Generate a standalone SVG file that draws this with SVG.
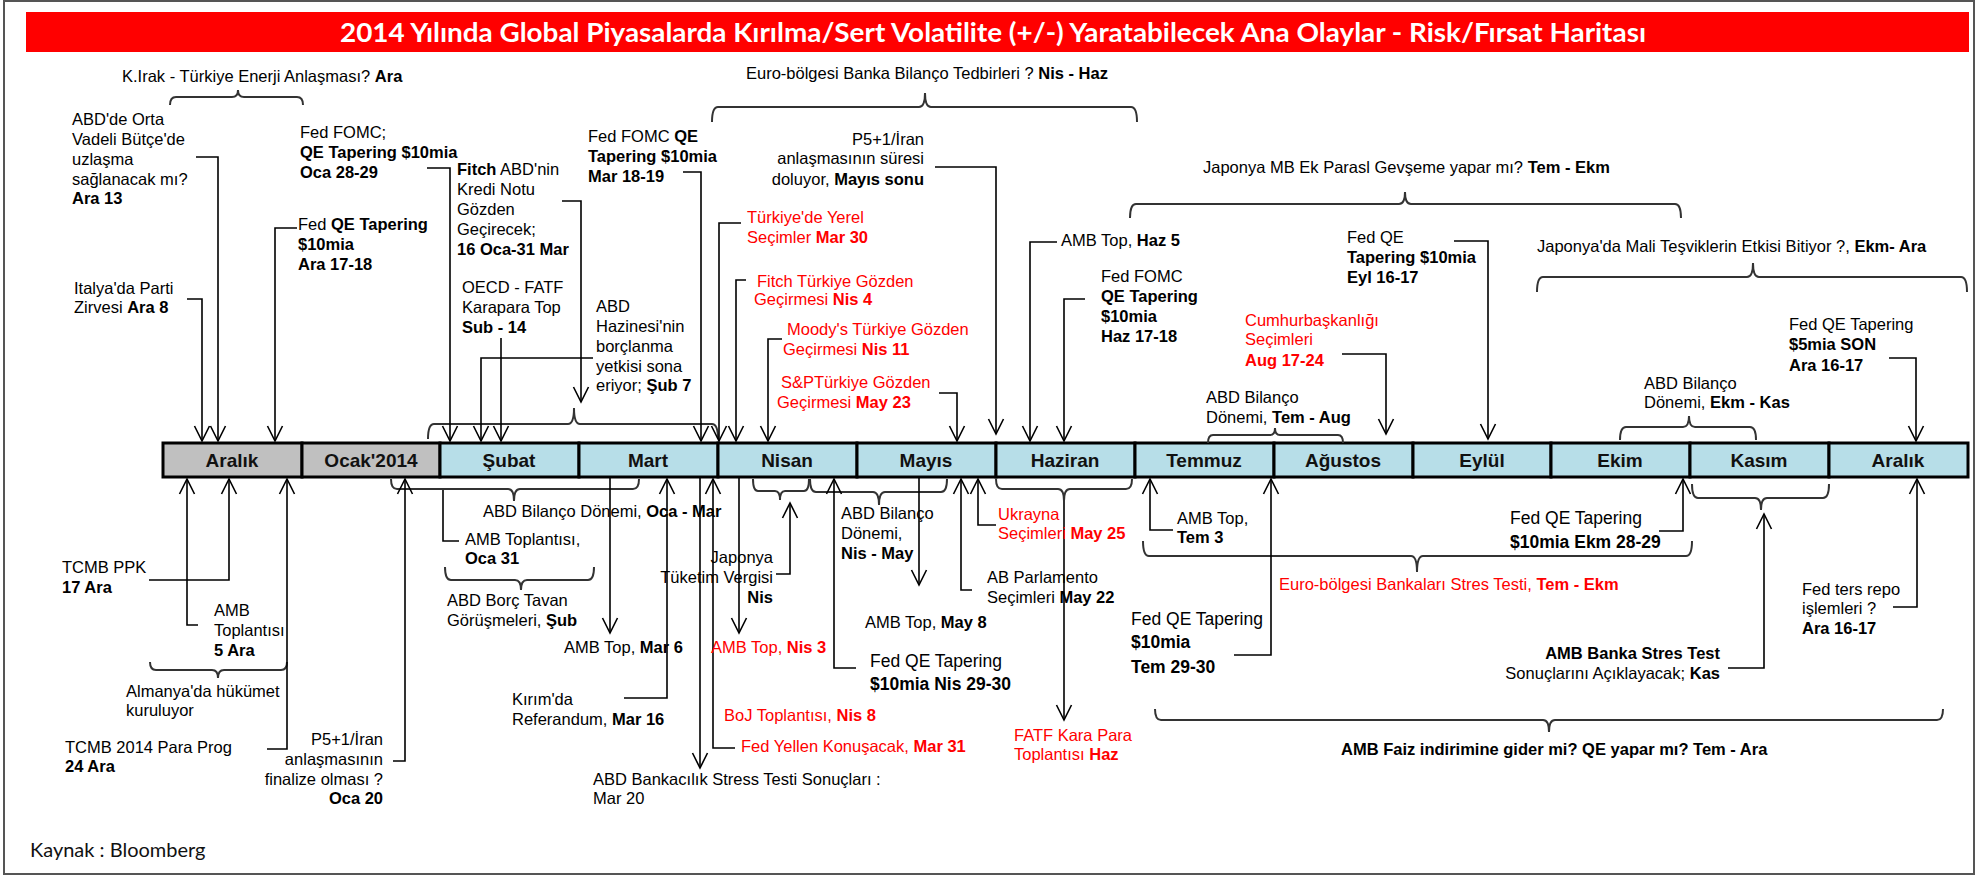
<svg xmlns="http://www.w3.org/2000/svg" width="1979" height="877" viewBox="0 0 1979 877">
<style>
.t{font-family:"Liberation Sans",Arial,sans-serif;font-size:16.5px;fill:#000}
.c{font-size:17.5px}
.b{font-weight:bold}
.r{fill:#f00}
.e{text-anchor:end}
.ln{fill:none;stroke:#000;stroke-width:1.6}
.br{fill:none;stroke:#333;stroke-width:2}
.mg{fill:#c0c0c0;stroke:#000;stroke-width:3}
.mb{fill:#b7dee8;stroke:#000;stroke-width:3}
.ml{font-family:"Liberation Sans",Arial,sans-serif;font-size:19px;font-weight:bold;fill:#111;text-anchor:middle}
</style>
<defs>
<marker id="ar" viewBox="-16 -9 18 18" refX="0" refY="0" markerWidth="18" markerHeight="18" markerUnits="userSpaceOnUse" orient="auto" overflow="visible">
<path d="M-15,-7.5 L0,0 L-15,7.5" fill="none" stroke="#000" stroke-width="1.6"/>
</marker>
</defs>
<rect x="0" y="0" width="1979" height="877" fill="#fff"/>
<rect x="4" y="1" width="1970" height="873" fill="#fff" stroke="#555" stroke-width="2"/>
<g id="title">
<rect x="26" y="12" width="1943" height="40" fill="#f00"/>
<text x="993" y="42" text-anchor="middle" textLength="1306" lengthAdjust="spacingAndGlyphs" style="font-family:Lato,'Liberation Sans',sans-serif;font-size:27px;font-weight:bold;fill:#fff">2014 Yılında Global Piyasalarda Kırılma/Sert Volatilite (+/-) Yaratabilecek Ana Olaylar - Risk/Fırsat Haritası</text>
</g>
<g id="timeline">
<rect class="mg" x="163" y="443" width="139" height="34"/>
<rect class="mg" x="302" y="443" width="138" height="34"/>
<rect class="mb" x="440" y="443" width="139" height="34"/>
<rect class="mb" x="579" y="443" width="139" height="34"/>
<rect class="mb" x="718" y="443" width="139" height="34"/>
<rect class="mb" x="857" y="443" width="139" height="34"/>
<rect class="mb" x="996" y="443" width="139" height="34"/>
<rect class="mb" x="1135" y="443" width="139" height="34"/>
<rect class="mb" x="1274" y="443" width="139" height="34"/>
<rect class="mb" x="1413" y="443" width="138" height="34"/>
<rect class="mb" x="1551" y="443" width="139" height="34"/>
<rect class="mb" x="1690" y="443" width="139" height="34"/>
<rect class="mb" x="1829" y="443" width="139" height="34"/>
<text class="ml" x="232" y="467">Aralık</text>
<text class="ml" x="371" y="467">Ocak'2014</text>
<text class="ml" x="509" y="467">Şubat</text>
<text class="ml" x="648" y="467">Mart</text>
<text class="ml" x="787" y="467">Nisan</text>
<text class="ml" x="926" y="467">Mayıs</text>
<text class="ml" x="1065" y="467">Haziran</text>
<text class="ml" x="1204" y="467">Temmuz</text>
<text class="ml" x="1343" y="467">Ağustos</text>
<text class="ml" x="1482" y="467">Eylül</text>
<text class="ml" x="1620" y="467">Ekim</text>
<text class="ml" x="1759" y="467">Kasım</text>
<text class="ml" x="1898" y="467">Aralık</text>
</g>
<g id="connectors">
<path class="br" d="M170,105 Q170,97 176,97 H232 Q238,97 238,90 Q238,97 244,97 H297 Q303,97 303,105"/>
<path class="br" d="M712,122 Q712,107 718,107 H919 Q925,107 925,93 Q925,107 931,107 H1131 Q1137,107 1137,122"/>
<path class="br" d="M1130,218 Q1130,204 1136,204 H1399 Q1405,204 1405,192 Q1405,204 1411,204 H1675 Q1681,204 1681,218"/>
<path class="br" d="M1537,292 Q1537,277 1543,277 H1747 Q1753,277 1753,263 Q1753,277 1759,277 H1961 Q1967,277 1967,292"/>
<path class="br" d="M428,439 Q428,424 434,424 H568 Q574,424 574,408 Q574,424 580,424 H712 Q718,424 718,439"/>
<path class="br" d="M1208,443 Q1208,435 1213,435 H1270 Q1275,435 1275,428 Q1275,435 1280,435 H1338 Q1343,435 1343,443"/>
<path class="br" d="M1620,440 Q1620,427 1626,427 H1683 Q1689,427 1689,416 Q1689,427 1695,427 H1750 Q1756,427 1756,440"/>
<path class="br" d="M150,662 Q150,670 156,670 H212 Q218,670 218,678 Q218,670 224,670 H281 Q287,670 287,662"/>
<path class="br" d="M391,479 Q391,489 397,489 H508 Q514,489 514,501 Q514,489 520,489 H633 Q639,489 639,479"/>
<path class="br" d="M445,567 Q445,580 451,580 H515 Q521,580 521,590 Q521,580 527,580 H588 Q594,580 594,567"/>
<path class="br" d="M753,479 Q753,491 758,491 H775 Q780,491 780,500 Q780,491 785,491 H804 Q809,491 809,479"/>
<path class="br" d="M810,479 Q810,492 816,492 H873 Q879,492 879,505 Q879,492 885,492 H941 Q947,492 947,479"/>
<path class="br" d="M996,479 Q996,489 1002,489 H1058 Q1064,489 1064,501 Q1064,489 1070,489 H1126 Q1132,489 1132,479"/>
<path class="br" d="M1143,541 Q1143,556 1149,556 H1411 Q1417,556 1417,572 Q1417,556 1423,556 H1686 Q1692,556 1692,541"/>
<path class="br" d="M1692,484 Q1692,498 1698,498 H1755 Q1761,498 1761,510 Q1761,498 1767,498 H1823 Q1829,498 1829,484"/>
<path class="br" d="M1155,709 Q1155,720 1161,720 H1543 Q1549,720 1549,732 Q1549,720 1555,720 H1937 Q1943,720 1943,709"/>
<path class="ln" marker-end="url(#ar)" d="M196,157 H218 V441"/>
<path class="ln" marker-end="url(#ar)" d="M187,299 H202 V441"/>
<path class="ln" marker-end="url(#ar)" d="M427,168 H450 V441"/>
<path class="ln" marker-end="url(#ar)" d="M297,228 H275 V441"/>
<path class="ln" marker-end="url(#ar)" d="M562,201 H581 V402"/>
<path class="ln" marker-end="url(#ar)" d="M501,338 V441"/>
<path class="ln" marker-end="url(#ar)" d="M593,358 H481 V441"/>
<path class="ln" marker-end="url(#ar)" d="M683,172 H701 V441"/>
<path class="ln" marker-end="url(#ar)" d="M935,167 H996 V434"/>
<path class="ln" marker-end="url(#ar)" d="M741,223 H719 V441"/>
<path class="ln" marker-end="url(#ar)" d="M746,280 H736 V441"/>
<path class="ln" marker-end="url(#ar)" d="M782,339 H768 V441"/>
<path class="ln" marker-end="url(#ar)" d="M939,393 H957 V441"/>
<path class="ln" marker-end="url(#ar)" d="M1057,242 H1030 V441"/>
<path class="ln" marker-end="url(#ar)" d="M1085,299 H1064 V441"/>
<path class="ln" marker-end="url(#ar)" d="M1342,354 H1386 V434"/>
<path class="ln" marker-end="url(#ar)" d="M1454,241 H1488 V439"/>
<path class="ln" marker-end="url(#ar)" d="M1889,358 H1916 V441"/>
<path class="ln" marker-end="url(#ar)" d="M149,580 H229 V479"/>
<path class="ln" marker-end="url(#ar)" d="M198,625 H187 V479"/>
<path class="ln" marker-end="url(#ar)" d="M267,749 H287 V479"/>
<path class="ln" marker-end="url(#ar)" d="M393,761 H405 V479"/>
<path class="ln" d="M459,541 H443 V490"/>
<path class="ln" marker-end="url(#ar)" d="M610,477 V633"/>
<path class="ln" marker-end="url(#ar)" d="M624,698 H667 V479"/>
<path class="ln" marker-end="url(#ar)" d="M700,477 V768"/>
<path class="ln" marker-end="url(#ar)" d="M735,748 H713 V479"/>
<path class="ln" marker-end="url(#ar)" d="M739,477 V633"/>
<path class="ln" marker-end="url(#ar)" d="M776,574 H790 V503"/>
<path class="ln" marker-end="url(#ar)" d="M856,668 H834 V479"/>
<path class="ln" marker-end="url(#ar)" d="M919,477 V585"/>
<path class="ln" marker-end="url(#ar)" d="M972,590 H961 V479"/>
<path class="ln" marker-end="url(#ar)" d="M996,525 H978 V479"/>
<path class="ln" marker-end="url(#ar)" d="M1064,501 V720"/>
<path class="ln" marker-end="url(#ar)" d="M1173,530 H1150 V479"/>
<path class="ln" marker-end="url(#ar)" d="M1234,655 H1271 V479"/>
<path class="ln" marker-end="url(#ar)" d="M1659,531 H1683 V479"/>
<path class="ln" marker-end="url(#ar)" d="M1728,668 H1764 V514"/>
<path class="ln" marker-end="url(#ar)" d="M1893,607 H1917 V479"/>
</g>
<g id="n-kirak"><text class="t" x="122" y="82">K.Irak - Türkiye Enerji  Anlaşması? <tspan class="b">Ara</tspan></text></g>
<g id="n-abd-orta"><text class="t" x="72" y="125">ABD'de Orta<tspan x="72" y="145">Vadeli Bütçe'de</tspan><tspan x="72" y="165">uzlaşma</tspan><tspan x="72" y="185">sağlanacak mı?</tspan><tspan x="72" y="204" class="b">Ara 13</tspan></text></g>
<g id="n-italya"><text class="t" x="74" y="294">Italya'da Parti<tspan x="74" y="313">Zirvesi </tspan><tspan class="b">Ara 8</tspan></text></g>
<g id="n-fomc-oca"><text class="t" x="300" y="138">Fed FOMC;<tspan x="300" y="158" class="b">QE Tapering $10mia</tspan><tspan x="300" y="178" class="b">Oca 28-29</tspan></text></g>
<g id="n-fed-ara"><text class="t" x="298" y="230">Fed <tspan class="b">QE  Tapering</tspan><tspan x="298" y="250" class="b">$10mia</tspan><tspan x="298" y="270" class="b">Ara 17-18</tspan></text></g>
<g id="n-fitch-abd"><text class="t" x="457" y="175"><tspan class="b">Fitch</tspan> ABD'nin<tspan x="457" y="195">Kredi Notu</tspan><tspan x="457" y="215">Gözden</tspan><tspan x="457" y="235">Geçirecek;</tspan><tspan x="457" y="255" class="b">16 Oca-31 Mar</tspan></text></g>
<g id="n-oecd"><text class="t" x="462" y="293">OECD  - FATF<tspan x="462" y="313">Karapara Top</tspan><tspan x="462" y="333" class="b">Sub - 14</tspan></text></g>
<g id="n-hazine"><text class="t" x="596" y="312">ABD<tspan x="596" y="332">Hazinesi'nin</tspan><tspan x="596" y="352">borçlanma</tspan><tspan x="596" y="372">yetkisi sona</tspan><tspan x="596" y="391">eriyor; </tspan><tspan class="b">Şub 7</tspan></text></g>
<g id="n-fomc-mar"><text class="t" x="588" y="142">Fed FOMC  <tspan class="b">QE</tspan><tspan x="588" y="162" class="b">Tapering $10mia</tspan><tspan x="588" y="182" class="b">Mar 18-19</tspan></text></g>
<g id="n-euro-bilanco"><text class="t" x="746" y="79">Euro-bölgesi Banka Bilanço Tedbirleri ? <tspan class="b">Nis - Haz</tspan></text></g>
<g id="n-p5-mayis"><text class="t e" x="924" y="145">P5+1/İran<tspan x="924" y="164">anlaşmasının  süresi</tspan><tspan x="924" y="185">doluyor, <tspan class="b">Mayıs sonu</tspan></tspan></text></g>
<g id="n-yerel"><text class="t r" x="747" y="223">Türkiye'de Yerel<tspan x="747" y="243">Seçimler  </tspan><tspan class="b">Mar 30</tspan></text></g>
<g id="n-fitch-tr"><text class="t r" x="757" y="287">Fitch Türkiye Gözden<tspan x="754" y="305">Geçirmesi  </tspan><tspan class="b">Nis 4</tspan></text></g>
<g id="n-moodys"><text class="t r" x="787" y="335">Moody's Türkiye Gözden<tspan x="783" y="355">Geçirmesi  </tspan><tspan class="b">Nis 11</tspan></text></g>
<g id="n-sp"><text class="t r" x="781" y="388">S&amp;PTürkiye  Gözden<tspan x="777" y="408">Geçirmesi  </tspan><tspan class="b">May 23</tspan></text></g>
<g id="n-amb-haz5"><text class="t" x="1061" y="246">AMB Top, <tspan class="b">Haz 5</tspan></text></g>
<g id="n-fomc-haz"><text class="t" x="1101" y="282">Fed FOMC<tspan x="1101" y="302" class="b">QE Tapering</tspan><tspan x="1101" y="322" class="b">$10mia</tspan><tspan x="1101" y="342" class="b">Haz 17-18</tspan></text></g>
<g id="n-cumhur"><text class="t r" x="1245" y="326">Cumhurbaşkanlığı<tspan x="1245" y="345">Seçimleri</tspan><tspan x="1245" y="366" class="b">Aug 17-24</tspan></text></g>
<g id="n-bilanco-tem"><text class="t" x="1206" y="403">ABD Bilanço<tspan x="1206" y="423">Dönemi,  </tspan><tspan class="b">Tem - Aug</tspan></text></g>
<g id="n-japonya-mb"><text class="t" x="1203" y="173">Japonya MB Ek  Parasl Gevşeme  yapar mı?  <tspan class="b">Tem - Ekm</tspan></text></g>
<g id="n-fed-eyl"><text class="t" x="1347" y="243">Fed  QE<tspan x="1347" y="263" class="b">Tapering $10mia</tspan><tspan x="1347" y="283" class="b">Eyl 16-17</tspan></text></g>
<g id="n-japonya-mali"><text class="t" x="1537" y="252">Japonya'da Mali  Teşviklerin Etkisi Bitiyor ?, <tspan class="b">Ekm- Ara</tspan></text></g>
<g id="n-fed-son"><text class="t" x="1789" y="330">Fed QE  Tapering<tspan x="1789" y="350" class="b">$5mia SON</tspan><tspan x="1789" y="371" class="b">Ara 16-17</tspan></text></g>
<g id="n-bilanco-ekm"><text class="t" x="1644" y="389">ABD Bilanço<tspan x="1644" y="408">Dönemi,  </tspan><tspan class="b">Ekm - Kas</tspan></text></g>
<g id="n-tcmb-ppk"><text class="t" x="62" y="573">TCMB  PPK<tspan x="62" y="593" class="b">17 Ara</tspan></text></g>
<g id="n-amb-5ara"><text class="t" x="214" y="616">AMB<tspan x="214" y="636">Toplantısı</tspan><tspan x="214" y="656" class="b">5 Ara</tspan></text></g>
<g id="n-almanya"><text class="t" x="126" y="697">Almanya'da hükümet<tspan x="126" y="716">kuruluyor</tspan></text></g>
<g id="n-tcmb-para"><text class="t" x="65" y="753">TCMB  2014 Para Prog<tspan x="65" y="772" class="b">24 Ara</tspan></text></g>
<g id="n-p5-oca"><text class="t e" x="383" y="745">P5+1/İran<tspan x="383" y="765">anlaşmasının</tspan><tspan x="383" y="785">finalize olması  ?</tspan><tspan x="383" y="804" class="b">Oca 20</tspan></text></g>
<g id="n-bilanco-oca"><text class="t" x="483" y="517">ABD Bilanço Dönemi, <tspan class="b">Oca - Mar</tspan></text></g>
<g id="n-amb-oca31"><text class="t" x="465" y="545">AMB Toplantısı,<tspan x="465" y="564" class="b">Oca 31</tspan></text></g>
<g id="n-borc"><text class="t" x="447" y="606">ABD Borç Tavan<tspan x="447" y="626">Görüşmeleri,  </tspan><tspan class="b">Şub</tspan></text></g>
<g id="n-amb-mar6"><text class="t" x="564" y="653">AMB Top, <tspan class="b">Mar 6</tspan></text></g>
<g id="n-kirim"><text class="t" x="512" y="705">Kırım'da<tspan x="512" y="725">Referandum, </tspan><tspan class="b">Mar 16</tspan></text></g>
<g id="n-stress"><text class="t" x="593" y="785">ABD Bankacılık  Stress Testi Sonuçları :<tspan x="593" y="804">Mar  20</tspan></text></g>
<g id="n-tuketim"><text class="t e" x="773" y="563">Japonya<tspan x="773" y="583">Tüketim  Vergisi</tspan><tspan x="773" y="603" class="b">Nis</tspan></text></g>
<g id="n-amb-nis3"><text class="t r" x="711" y="653">AMB Top, <tspan class="b">Nis 3</tspan></text></g>
<g id="n-bilanco-nis"><text class="t" x="841" y="519">ABD Bilanço<tspan x="841" y="539">Dönemi,</tspan><tspan x="841" y="559" class="b">Nis - May</tspan></text></g>
<g id="n-fed-nis"><text class="t c" x="870" y="667">Fed QE Tapering<tspan x="870" y="690" class="b">$10mia Nis 29-30</tspan></text></g>
<g id="n-boj"><text class="t r" x="724" y="721">BoJ Toplantısı,  <tspan class="b">Nis 8</tspan></text></g>
<g id="n-yellen"><text class="t r" x="741" y="752">Fed Yellen Konuşacak, <tspan class="b">Mar 31</tspan></text></g>
<g id="n-amb-may8"><text class="t" x="865" y="628">AMB Top, <tspan class="b">May 8</tspan></text></g>
<g id="n-ab-parl"><text class="t" x="987" y="583">AB Parlamento<tspan x="987" y="603">Seçimleri  </tspan><tspan class="b">May 22</tspan></text></g>
<g id="n-ukrayna"><text class="t r" x="998" y="520">Ukrayna<tspan x="998" y="539">Seçimleri  </tspan><tspan class="b">May 25</tspan></text></g>
<g id="n-fatf"><text class="t r" x="1014" y="741">FATF  Kara Para<tspan x="1014" y="760">Toplantısı  </tspan><tspan class="b">Haz</tspan></text></g>
<g id="n-amb-tem3"><text class="t" x="1177" y="524">AMB Top,<tspan x="1177" y="543" class="b">Tem 3</tspan></text></g>
<g id="n-euro-stres"><text class="t r" x="1279" y="590">Euro-bölgesi Bankaları Stres Testi, <tspan class="b">Tem - Ekm</tspan></text></g>
<g id="n-fed-tem"><text class="t c" x="1131" y="625">Fed QE Tapering<tspan x="1131" y="648" class="b">$10mia</tspan><tspan x="1131" y="673" class="b">Tem 29-30</tspan></text></g>
<g id="n-fed-ekm"><text class="t c" x="1510" y="524">Fed QE Tapering<tspan x="1510" y="548" class="b">$10mia Ekm 28-29</tspan></text></g>
<g id="n-amb-banka"><text class="t e" x="1720" y="659"><tspan class="b">AMB Banka Stres Test</tspan><tspan x="1720" y="679">Sonuçlarını Açıklayacak; <tspan class="b">Kas</tspan></tspan></text></g>
<g id="n-ters-repo"><text class="t" x="1802" y="595">Fed ters repo<tspan x="1802" y="614">işlemleri ?</tspan><tspan x="1802" y="634" class="b">Ara 16-17</tspan></text></g>
<g id="n-amb-faiz"><text class="t b" x="1341" y="755">AMB Faiz indirimine gider mi? QE yapar mı? Tem - Ara</text></g>
<g id="n-kaynak"><text x="30" y="857" style="font-family:Lato,'Liberation Sans',sans-serif;font-size:20px;fill:#111">Kaynak : Bloomberg</text></g>
</svg>
